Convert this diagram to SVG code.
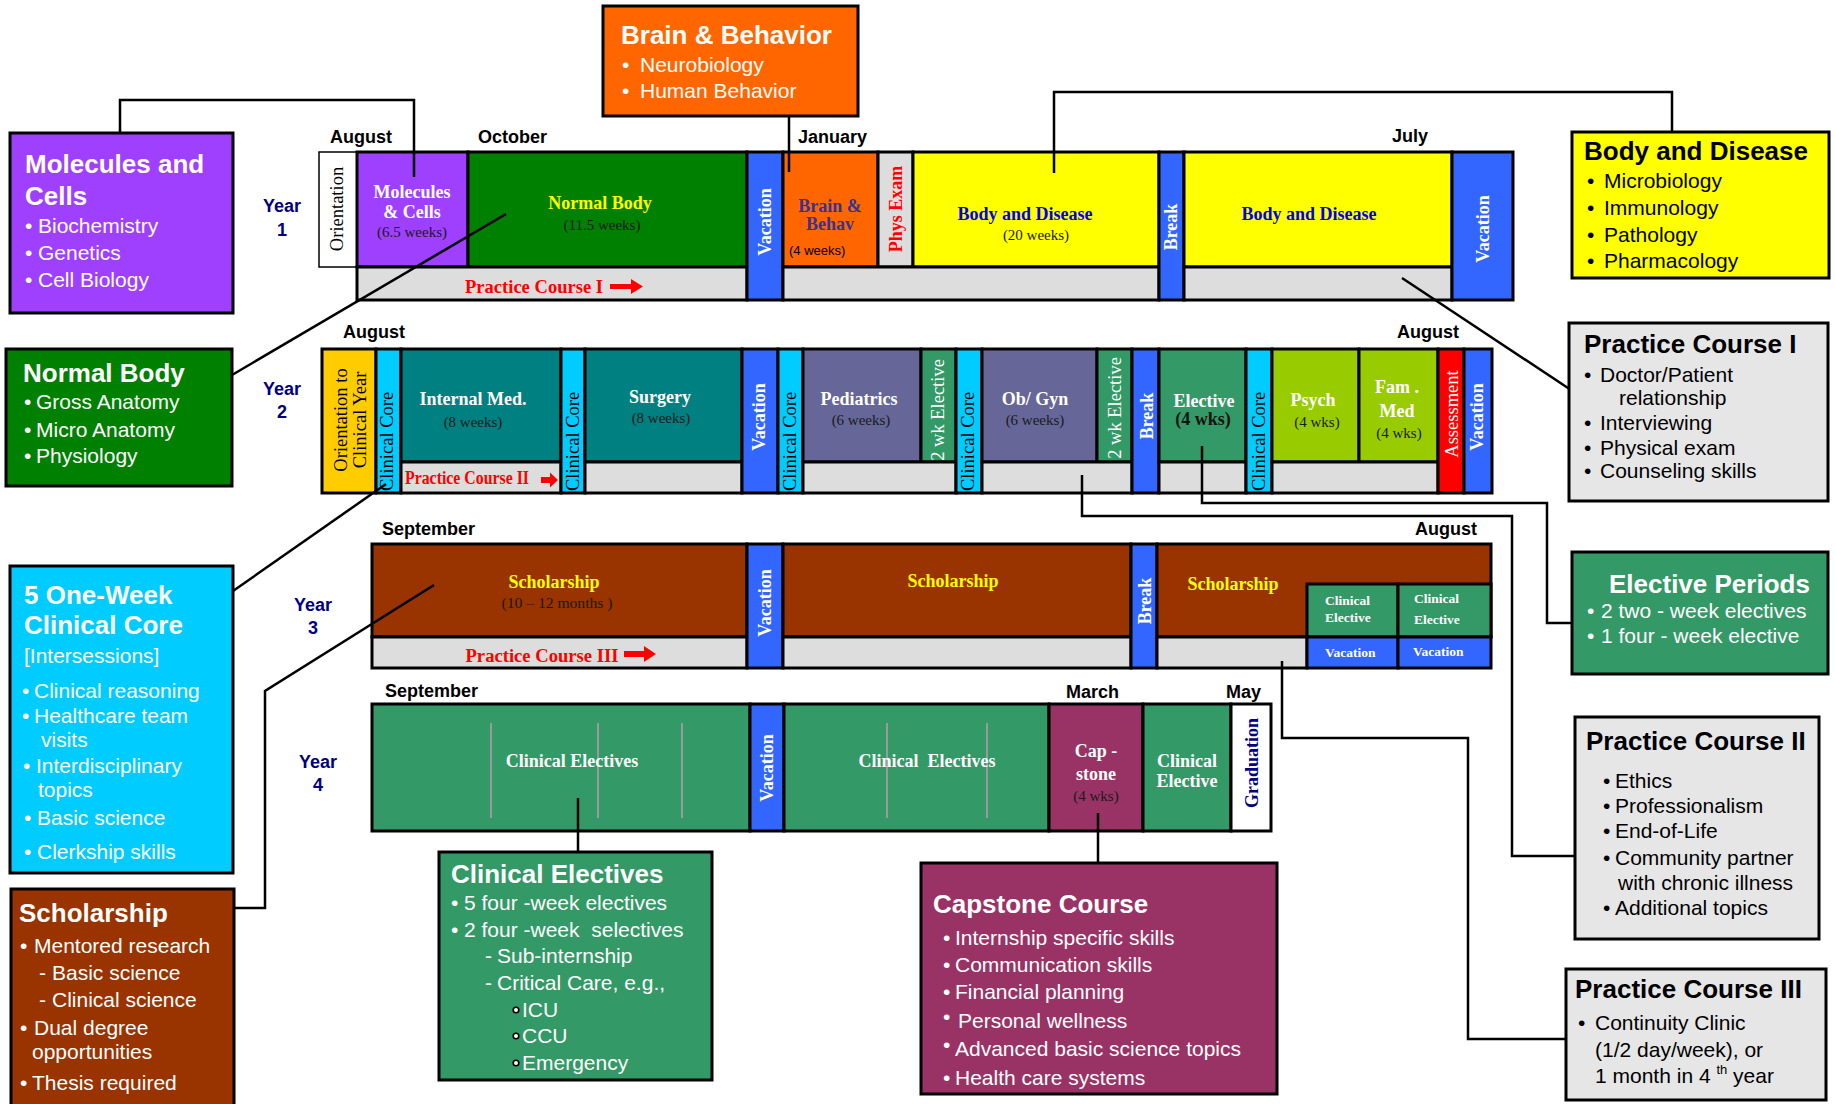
<svg xmlns="http://www.w3.org/2000/svg" width="1835" height="1104" viewBox="0 0 1835 1104">
<style>
.c{stroke:#000;stroke-width:3}
.o{stroke:#000;stroke-width:1.5}
.b{stroke:#000;stroke-width:3}
.cn{fill:none;stroke:#000;stroke-width:2.5}
.gl{stroke:#9a9a9a;stroke-width:2}
text{font-family:"Liberation Sans",Arial,sans-serif}
.mo{font-weight:bold;font-size:18px;fill:#000}
.yr{font-weight:bold;font-size:18px;fill:#000080;text-anchor:middle}
.sb{font-family:"Liberation Serif","Times New Roman",serif;font-weight:bold;font-size:18px;text-anchor:middle}
.sr{font-family:"Liberation Serif","Times New Roman",serif;font-size:15px;text-anchor:middle;fill:#1a1a1a}
.rt{font-family:"Liberation Serif","Times New Roman",serif;font-size:18.5px;fill:#000}
.w{fill:#fff}
.tt{font-weight:bold;font-size:26px}
.it{font-size:21px}
.sm{font-family:"Liberation Serif","Times New Roman",serif;font-weight:bold;font-size:13.5px;fill:#fff}
</style>

<!-- Month and year labels -->
<g id="labels">
<text class="mo" x="330" y="143">August</text>
<text class="mo" x="478" y="143">October</text>
<text class="mo" x="798" y="143">January</text>
<text class="mo" x="1392" y="142">July</text>
<text class="mo" x="343" y="338">August</text>
<text class="mo" x="1397" y="338">August</text>
<text class="mo" x="382" y="535">September</text>
<text class="mo" x="1415" y="535">August</text>
<text class="mo" x="385" y="697">September</text>
<text class="mo" x="1066" y="698">March</text>
<text class="mo" x="1226" y="698">May</text>
<text class="yr" x="282" y="212">Year</text><text class="yr" x="282" y="236">1</text>
<text class="yr" x="282" y="395">Year</text><text class="yr" x="282" y="418">2</text>
<text class="yr" x="313" y="611">Year</text><text class="yr" x="313" y="634">3</text>
<text class="yr" x="318" y="768">Year</text><text class="yr" x="318" y="791">4</text>
</g>

<!-- YEAR 1 -->
<g id="y1-orientation"><rect x="319" y="152" width="38" height="115" fill="#fff" class="o"/><text class="rt" font-size="16" text-anchor="middle" transform="translate(343,209) rotate(-90)">Orientation</text></g>
<g id="y1-molecules"><rect x="357" y="152" width="111" height="115" fill="#9F3FFF" class="c"/><text class="sb w" x="412" y="198">Molecules</text><text class="sb w" x="412" y="218">&amp; Cells</text><text class="sr" x="412" y="237">(6.5 weeks)</text></g>
<g id="y1-normal-body"><rect x="468" y="152" width="279" height="115" fill="#008000" class="c"/><text class="sb" fill="#FFFF00" x="600" y="209">Normal Body</text><text class="sr" x="602" y="230">(11.5 weeks)</text></g>
<g id="y1-practice-1"><rect x="357" y="267" width="390" height="33" fill="#DDDDDD" class="c"/><text class="sb" fill="#FF0000" x="534" y="293" font-size="19.5" textLength="138" lengthAdjust="spacingAndGlyphs">Practice Course I</text><path d="M610,284 h21 v-5 l12,7.5 -12,7.5 v-5 h-21z" fill="#FF0000"/></g>
<g id="y1-vacation-1"><rect x="747" y="152" width="36" height="148" fill="#3366FF" class="c"/><text class="sb w" transform="translate(771,222) rotate(-90)">Vacation</text></g>
<g id="y1-brain"><rect x="783" y="152" width="95" height="115" fill="#FF6600" class="c"/><text class="sb" fill="#333399" x="830" y="212">Brain &amp;</text><text class="sb" fill="#333399" x="830" y="230">Behav</text><text x="789" y="255" font-size="13" fill="#000">(4 weeks)</text></g>
<g id="y1-phys-exam"><rect x="878" y="152" width="35" height="115" fill="#DDDDDD" class="c"/><text class="sb" fill="#FF0000" transform="translate(902,209) rotate(-90)">Phys Exam</text></g>
<g id="y1-body-disease-1"><rect x="913" y="152" width="246" height="115" fill="#FFFF00" class="c"/><text class="sb" fill="#0000EE" x="1025" y="220">Body and Disease</text><text class="sr" x="1036" y="240">(20 weeks)</text></g>
<g id="y1-gray-2"><rect x="783" y="267" width="376" height="33" fill="#DDDDDD" class="c"/></g>
<g id="y1-break"><rect x="1159" y="152" width="25" height="148" fill="#3366FF" class="c"/><text class="sb w" transform="translate(1177,227) rotate(-90)">Break</text></g>
<g id="y1-body-disease-2"><rect x="1184" y="152" width="268" height="115" fill="#FFFF00" class="c"/><text class="sb" fill="#0000EE" x="1309" y="220">Body and Disease</text></g>
<g id="y1-gray-3"><rect x="1184" y="267" width="268" height="33" fill="#DDDDDD" class="c"/></g>
<g id="y1-vacation-2"><rect x="1452" y="152" width="61" height="148" fill="#3366FF" class="c"/><text class="sb w" transform="translate(1489,229) rotate(-90)">Vacation</text></g>

<!-- YEAR 2 -->
<g id="y2-orientation"><rect x="322" y="349" width="54" height="144" fill="#FFCC00" class="c"/><text class="rt" font-size="16" fill="#222" text-anchor="middle" transform="translate(347,420) rotate(-90)">Orientation to</text><text class="rt" font-size="16" fill="#222" text-anchor="middle" transform="translate(366,420) rotate(-90)">Clinical Year</text></g>
<g id="y2-cc1"><rect x="376" y="349" width="25" height="144" fill="#00CCFF" class="c"/><text class="rt" transform="translate(393,491) rotate(-90)">Clinical Core</text></g>
<g id="y2-internal"><rect x="401" y="349" width="160" height="113" fill="#008080" class="c"/><text class="sb w" x="473" y="405">Internal Med.</text><text class="sr" x="473" y="427">(8 weeks)</text></g>
<g id="y2-practice-2"><rect x="401" y="462" width="160" height="31" fill="#DDDDDD" class="c"/><text class="sb" fill="#FF0000" font-size="16" x="467" y="484" textLength="124" lengthAdjust="spacingAndGlyphs">Practice Course II</text><path d="M541,477 h9 v-4.5 l8,7.5 -8,7.5 v-4.5 h-9z" fill="#FF0000"/></g>
<g id="y2-cc2"><rect x="561" y="349" width="24" height="144" fill="#00CCFF" class="c"/><text class="rt" transform="translate(579,491) rotate(-90)">Clinical Core</text></g>
<g id="y2-surgery"><rect x="585" y="349" width="157" height="113" fill="#008080" class="c"/><text class="sb w" x="660" y="403">Surgery</text><text class="sr" x="661" y="423">(8 weeks)</text><rect x="585" y="462" width="157" height="31" fill="#DDDDDD" class="c"/></g>
<g id="y2-vacation-1"><rect x="742" y="349" width="36" height="144" fill="#3366FF" class="c"/><text class="sb w" transform="translate(765,417) rotate(-90)">Vacation</text></g>
<g id="y2-cc3"><rect x="778" y="349" width="25" height="144" fill="#00CCFF" class="c"/><text class="rt" transform="translate(796,491) rotate(-90)">Clinical Core</text></g>
<g id="y2-pediatrics"><rect x="803" y="349" width="118" height="113" fill="#666699" class="c"/><text class="sb w" x="859" y="405">Pediatrics</text><text class="sr" x="861" y="425">(6 weeks)</text></g>
<g id="y2-2wk-1"><rect x="921" y="349" width="35" height="113" fill="#339966" class="c"/><text class="rt w" font-size="15.5" text-anchor="middle" transform="translate(944,410) rotate(-90)">2 wk Elective</text><rect x="803" y="462" width="153" height="31" fill="#DDDDDD" class="c"/></g>
<g id="y2-cc4"><rect x="956" y="349" width="26" height="144" fill="#00CCFF" class="c"/><text class="rt" transform="translate(974,491) rotate(-90)">Clinical Core</text></g>
<g id="y2-obgyn"><rect x="982" y="349" width="115" height="113" fill="#666699" class="c"/><text class="sb w" x="1035" y="405">Ob/ Gyn</text><text class="sr" x="1035" y="425">(6 weeks)</text></g>
<g id="y2-2wk-2"><rect x="1097" y="349" width="35" height="113" fill="#339966" class="c"/><text class="rt w" font-size="15.5" text-anchor="middle" transform="translate(1121,408) rotate(-90)">2 wk Elective</text><rect x="982" y="462" width="150" height="31" fill="#DDDDDD" class="c"/></g>
<g id="y2-break"><rect x="1132" y="349" width="27" height="144" fill="#3366FF" class="c"/><text class="sb w" transform="translate(1153,416) rotate(-90)">Break</text></g>
<g id="y2-elective"><rect x="1159" y="349" width="87" height="113" fill="#339966" class="c"/><text class="sb w" x="1204" y="407">Elective</text><text class="sb" font-size="15" fill="#111" x="1203" y="425">(4 wks)</text><rect x="1159" y="462" width="87" height="31" fill="#DDDDDD" class="c"/></g>
<g id="y2-cc5"><rect x="1246" y="349" width="26" height="144" fill="#00CCFF" class="c"/><text class="rt" transform="translate(1265,491) rotate(-90)">Clinical Core</text></g>
<g id="y2-psych"><rect x="1272" y="349" width="87" height="113" fill="#99CC00" class="c"/><text class="sb w" x="1313" y="406">Psych</text><text class="sr" x="1317" y="427">(4 wks)</text></g>
<g id="y2-fammed"><rect x="1359" y="349" width="79" height="113" fill="#99CC00" class="c"/><text class="sb w" x="1397" y="393">Fam .</text><text class="sb w" x="1397" y="417">Med</text><text class="sr" x="1399" y="438">(4 wks)</text><rect x="1272" y="462" width="166" height="31" fill="#DDDDDD" class="c"/></g>
<g id="y2-assessment"><rect x="1438" y="349" width="26" height="144" fill="#FF0000" class="c"/><text class="rt w" font-size="18" text-anchor="middle" transform="translate(1458,414) rotate(-90)">Assessment</text></g>
<g id="y2-vacation-2"><rect x="1464" y="349" width="28" height="144" fill="#3366FF" class="c"/><text class="sb w" transform="translate(1483,417) rotate(-90)">Vacation</text></g>

<!-- YEAR 3 -->
<g id="y3-scholarship-1"><rect x="372" y="544" width="375" height="93" fill="#993300" class="c"/><text class="sb" fill="#FFFF00" x="554" y="588">Scholarship</text><text class="sr" x="557" y="608" textLength="111" lengthAdjust="spacingAndGlyphs">(10 – 12 months )</text></g>
<g id="y3-practice-3"><rect x="372" y="637" width="375" height="31" fill="#DDDDDD" class="c"/><text class="sb" fill="#FF0000" font-size="19" x="542" y="662" textLength="153" lengthAdjust="spacingAndGlyphs">Practice Course III</text><path d="M624,651 h20 v-5 l12,8 -12,8 v-5 h-20z" fill="#FF0000"/></g>
<g id="y3-vacation"><rect x="747" y="544" width="36" height="124" fill="#3366FF" class="c"/><text class="sb w" transform="translate(771,603) rotate(-90)">Vacation</text></g>
<g id="y3-scholarship-2"><rect x="783" y="544" width="348" height="93" fill="#993300" class="c"/><text class="sb" fill="#FFFF00" x="953" y="587">Scholarship</text><rect x="783" y="637" width="348" height="31" fill="#DDDDDD" class="c"/></g>
<g id="y3-break"><rect x="1131" y="544" width="26" height="124" fill="#3366FF" class="c"/><text class="sb w" transform="translate(1151,601) rotate(-90)">Break</text></g>
<g id="y3-scholarship-3"><rect x="1157" y="544" width="334" height="93" fill="#993300" class="c"/><text class="sb" fill="#FFFF00" x="1233" y="590">Scholarship</text><rect x="1157" y="637" width="150" height="31" fill="#DDDDDD" class="c"/></g>
<g id="y3-ce-1"><rect x="1307" y="584" width="91" height="53" fill="#339966" class="c"/><text class="sm" x="1325" y="605">Clinical</text><text class="sm" x="1325" y="622">Elective</text></g>
<g id="y3-ce-2"><rect x="1398" y="584" width="93" height="53" fill="#339966" class="c"/><text class="sm" x="1414" y="603">Clinical</text><text class="sm" x="1414" y="624">Elective</text></g>
<g id="y3-vac-1"><rect x="1307" y="637" width="91" height="31" fill="#3366FF" class="c"/><text class="sm" x="1325" y="657">Vacation</text></g>
<g id="y3-vac-2"><rect x="1398" y="637" width="93" height="31" fill="#3366FF" class="c"/><text class="sm" x="1413" y="656">Vacation</text></g>

<!-- YEAR 4 -->
<g id="y4-ce-1"><rect x="372" y="704" width="378" height="127" fill="#339966" class="c"/><line class="gl" x1="491" y1="723" x2="491" y2="818"/><line class="gl" x1="598" y1="723" x2="598" y2="818"/><line class="gl" x1="682" y1="723" x2="682" y2="818"/><text class="sb w" x="572" y="767">Clinical Electives</text></g>
<g id="y4-vacation"><rect x="750" y="704" width="34" height="127" fill="#3366FF" class="c"/><text class="sb w" transform="translate(773,768) rotate(-90)">Vacation</text></g>
<g id="y4-ce-2"><rect x="784" y="704" width="265" height="127" fill="#339966" class="c"/><line class="gl" x1="887" y1="723" x2="887" y2="818"/><line class="gl" x1="987" y1="723" x2="987" y2="818"/><text class="sb w" x="927" y="767" xml:space="preserve">Clinical  Electives</text></g>
<g id="y4-capstone"><rect x="1049" y="704" width="94" height="127" fill="#993366" class="c"/><text class="sb w" x="1096" y="757">Cap -</text><text class="sb w" x="1096" y="780">stone</text><text class="sr" x="1096" y="801">(4 wks)</text></g>
<g id="y4-ce-3"><rect x="1143" y="704" width="88" height="127" fill="#339966" class="c"/><text class="sb w" x="1187" y="767">Clinical</text><text class="sb w" x="1187" y="787">Elective</text></g>
<g id="y4-graduation"><rect x="1231" y="704" width="40" height="127" fill="#fff" class="c"/><text class="sb" fill="#000080" transform="translate(1258,763) rotate(-90)">Graduation</text></g>

<!-- Connectors -->
<g id="connectors">
<path class="cn" d="M120,133 V100 H414 V177"/>
<path class="cn" d="M789,116 V172"/>
<path class="cn" d="M1054,173 V92 H1672 V132"/>
<path class="cn" d="M506,214 L232,375"/>
<path class="cn" d="M1402,278 L1571,390"/>
<path class="cn" d="M386,484 L233,591"/>
<path class="cn" d="M434,585 L265,691 V908 H234"/>
<path class="cn" d="M1082,475 V516 H1512 V856 H1575"/>
<path class="cn" d="M1202,446 V503 H1547 V623 H1572"/>
<path class="cn" d="M1282,661 V738 H1468 V1039 H1566"/>
<path class="cn" d="M578,798 V852"/>
<path class="cn" d="M1098,813 V863"/>
</g>

<!-- Side boxes -->
<g id="box-molecules"><rect x="10" y="133" width="223" height="180" fill="#9F3FFF" class="b"/>
<text class="tt w" x="25" y="173">Molecules and</text><text class="tt w" x="25" y="205">Cells</text>
<text class="it w" x="25" y="233">•</text><text class="it w" x="38" y="233">Biochemistry</text>
<text class="it w" x="25" y="260">•</text><text class="it w" x="38" y="260">Genetics</text>
<text class="it w" x="25" y="287">•</text><text class="it w" x="38" y="287">Cell Biology</text></g>

<g id="box-brain"><rect x="603" y="6" width="255" height="110" fill="#FF6600" class="b"/>
<text class="tt w" x="621" y="44">Brain &amp; Behavior</text>
<text class="it w" x="622" y="72">•</text><text class="it w" x="640" y="72">Neurobiology</text>
<text class="it w" x="622" y="98">•</text><text class="it w" x="640" y="98">Human Behavior</text></g>

<g id="box-normal-body"><rect x="6" y="349" width="226" height="137" fill="#008000" class="b"/>
<text class="tt w" x="23" y="382">Normal Body</text>
<text class="it w" x="24" y="409">•</text><text class="it w" x="36" y="409">Gross Anatomy</text>
<text class="it w" x="24" y="437">•</text><text class="it w" x="36" y="437">Micro Anatomy</text>
<text class="it w" x="24" y="463">•</text><text class="it w" x="36" y="463">Physiology</text></g>

<g id="box-clinical-core"><rect x="10" y="566" width="223" height="307" fill="#00CCFF" class="b"/>
<text class="tt w" x="24" y="604">5 One-Week</text><text class="tt w" x="24" y="634">Clinical Core</text>
<text class="it w" x="24" y="663">[Intersessions]</text>
<text class="it w" x="22" y="698">•</text><text class="it w" x="34" y="698">Clinical reasoning</text>
<text class="it w" x="22" y="723">•</text><text class="it w" x="34" y="723">Healthcare team</text>
<text class="it w" x="41" y="747">visits</text>
<text class="it w" x="23" y="773">•</text><text class="it w" x="36" y="773">Interdisciplinary</text>
<text class="it w" x="38" y="797">topics</text>
<text class="it w" x="24" y="825">•</text><text class="it w" x="37" y="825">Basic science</text>
<text class="it w" x="24" y="859">•</text><text class="it w" x="37" y="859">Clerkship skills</text></g>

<g id="box-scholarship"><rect x="11" y="889" width="223" height="222" fill="#993300" class="b"/>
<text class="tt w" x="19" y="922">Scholarship</text>
<text class="it w" x="20" y="953">•</text><text class="it w" x="34" y="953">Mentored research</text>
<text class="it w" x="39" y="980">-</text><text class="it w" x="52" y="980">Basic science</text>
<text class="it w" x="39" y="1007">-</text><text class="it w" x="52" y="1007">Clinical science</text>
<text class="it w" x="20" y="1035">•</text><text class="it w" x="34" y="1035">Dual degree</text>
<text class="it w" x="32" y="1059">opportunities</text>
<text class="it w" x="20" y="1090">•</text><text class="it w" x="32" y="1090">Thesis required</text></g>

<g id="box-clinical-electives"><rect x="439" y="852" width="273" height="228" fill="#339966" class="b"/>
<text class="tt w" x="451" y="883" font-size="27">Clinical Electives</text>
<text class="it w" x="451" y="910">•</text><text class="it w" x="464" y="910" xml:space="preserve">5 four -week electives</text>
<text class="it w" x="451" y="937">•</text><text class="it w" x="464" y="937" xml:space="preserve">2 four -week  selectives</text>
<text class="it w" x="485" y="963">-</text><text class="it w" x="497" y="963">Sub-internship</text>
<text class="it w" x="485" y="990">-</text><text class="it w" x="497" y="990">Critical Care, e.g.,</text>
<circle cx="516" cy="1010" r="2.8" fill="#fff" stroke="#000" stroke-width="1.6"/><text class="it w" x="522" y="1017">ICU</text>
<circle cx="516" cy="1036" r="2.8" fill="#fff" stroke="#000" stroke-width="1.6"/><text class="it w" x="522" y="1043">CCU</text>
<circle cx="516" cy="1063" r="2.8" fill="#fff" stroke="#000" stroke-width="1.6"/><text class="it w" x="522" y="1070">Emergency</text></g>

<g id="box-capstone"><rect x="921" y="863" width="356" height="231" fill="#993366" class="b"/>
<text class="tt w" x="933" y="913">Capstone Course</text>
<text class="it w" x="943" y="945">•</text><text class="it w" x="955" y="945">Internship specific skills</text>
<text class="it w" x="943" y="972">•</text><text class="it w" x="955" y="972">Communication skills</text>
<text class="it w" x="943" y="999">•</text><text class="it w" x="955" y="999">Financial planning</text>
<text class="it w" x="943" y="1024">•</text><text class="it w" x="958" y="1028">Personal wellness</text>
<text class="it w" x="943" y="1052">•</text><text class="it w" x="955" y="1056">Advanced basic science topics</text>
<text class="it w" x="943" y="1085">•</text><text class="it w" x="955" y="1085">Health care systems</text></g>

<g id="box-body-disease"><rect x="1572" y="132" width="257" height="146" fill="#FFFF00" class="b"/>
<text class="tt" x="1584" y="160">Body and Disease</text>
<text class="it" x="1587" y="188">•</text><text class="it" x="1604" y="188">Microbiology</text>
<text class="it" x="1587" y="215">•</text><text class="it" x="1604" y="215">Immunology</text>
<text class="it" x="1587" y="242">•</text><text class="it" x="1604" y="242">Pathology</text>
<text class="it" x="1587" y="268">•</text><text class="it" x="1604" y="268">Pharmacology</text></g>

<g id="box-practice-1"><rect x="1569" y="323" width="259" height="178" fill="#E6E6E6" class="b"/>
<text class="tt" x="1584" y="353">Practice Course I</text>
<text class="it" x="1584" y="382">•</text><text class="it" x="1600" y="382">Doctor/Patient</text>
<text class="it" x="1619" y="405">relationship</text>
<text class="it" x="1584" y="430">•</text><text class="it" x="1600" y="430">Interviewing</text>
<text class="it" x="1584" y="455">•</text><text class="it" x="1600" y="455">Physical exam</text>
<text class="it" x="1584" y="478">•</text><text class="it" x="1600" y="478">Counseling skills</text></g>

<g id="box-elective-periods"><rect x="1572" y="552" width="256" height="122" fill="#339966" class="b"/>
<text class="tt w" x="1609" y="593">Elective Periods</text>
<text class="it w" x="1587" y="618">•</text><text class="it w" x="1601" y="618" xml:space="preserve">2 two - week electives</text>
<text class="it w" x="1587" y="643">•</text><text class="it w" x="1601" y="643" xml:space="preserve">1 four - week elective</text></g>

<g id="box-practice-2"><rect x="1575" y="717" width="244" height="222" fill="#E6E6E6" class="b"/>
<text class="tt" x="1586" y="750" font-size="25">Practice Course II</text>
<text class="it" x="1603" y="788">•</text><text class="it" x="1615" y="788">Ethics</text>
<text class="it" x="1603" y="813">•</text><text class="it" x="1615" y="813">Professionalism</text>
<text class="it" x="1603" y="838">•</text><text class="it" x="1615" y="838">End-of-Life</text>
<text class="it" x="1603" y="865">•</text><text class="it" x="1615" y="865">Community partner</text>
<text class="it" x="1618" y="890">with chronic illness</text>
<text class="it" x="1603" y="915">•</text><text class="it" x="1615" y="915">Additional topics</text></g>

<g id="box-practice-3"><rect x="1566" y="969" width="260" height="131" fill="#E6E6E6" class="b"/>
<text class="tt" x="1575" y="998">Practice Course III</text>
<text class="it" x="1578" y="1030">•</text><text class="it" x="1595" y="1030">Continuity Clinic</text>
<text class="it" x="1595" y="1057">(1/2 day/week), or</text>
<text class="it" x="1595" y="1083">1 month in 4 <tspan font-size="13" dy="-9">th</tspan><tspan dy="9"> year</tspan></text></g>
</svg>
